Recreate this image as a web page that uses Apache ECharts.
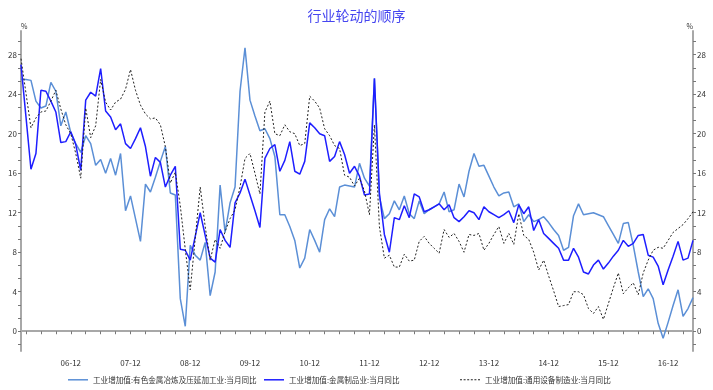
<!DOCTYPE html>
<html><head><meta charset="utf-8">
<script src="https://cdn.jsdelivr.net/npm/echarts@6/dist/echarts.min.js"></script>
<style>html,body{margin:0;padding:0;background:#fff}#c{width:713px;height:390px}</style>
</head><body><div id="c"></div>
<script>
// Months 2006-02 .. 2017-05
const startYear = 2006, startMonth = 2, endYear = 2017, endMonth = 5;
const months = [];
for (let y = startYear, m = startMonth; y < endYear || (y === endYear && m <= endMonth); ) {
  months.push(y + '-' + String(m).padStart(2, '0'));
  m++; if (m > 12) { m = 1; y++; }
}
const nameA = '工业增加值:有色金属冶炼及压延加工业:当月同比';
const nameB = '工业增加值:金属制品业:当月同比';
const nameC = '工业增加值:通用设备制造业:当月同比';
const seriesA = [
  25.5, 25.5, 25.4, 23.3, 22.6, 22.8, 25.2, 24.3, 20.8, 22.2,
  20.1, 19.0, 18.1, 19.8, 19.0, 16.8, 17.4, 16.0, 17.5, 15.8,
  18.0, 12.2, 13.7, 11.4, 9.1, 14.9, 14.1, 15.6, 17.2, 18.7,
  14.0, 13.8, 3.3, 0.5, 8.7, 7.7, 7.2, 9.0, 3.6, 6.0,
  14.8, 10.0, 13.0, 14.6, 24.3, 28.7, 23.4, 21.8, 20.3, 20.5,
  19.5, 17.7, 11.8, 11.8, 10.6, 9.2, 6.4, 7.4, 10.3, 9.2,
  8.0, 11.3, 12.4, 11.6, 14.6, 14.8, 14.7, 14.6, 17.0, 15.5,
  14.7, 25.6, 13.6, 11.4, 11.9, 13.2, 12.3, 13.7, 11.9, 11.4,
  13.2, 11.9, 12.3, 12.6, 12.9, 14.1, 12.1, 12.3, 14.9, 13.6,
  16.2, 18.0, 16.7, 16.8, 15.7, 14.6, 13.7, 14.0, 14.1, 12.6,
  12.9, 11.1, 11.8, 11.1, 11.3, 11.6, 11.0, 10.3, 9.7, 8.2,
  8.5, 11.7, 12.9, 11.8, 11.9, 12.0, 11.8, 11.6, 10.7, 9.8,
  8.9, 10.9, 11.0, 8.7, 6.0, 3.5, 4.3, 3.3, 0.8, -0.7,
  0.9, 2.6, 4.2, 1.5, 2.3, 3.4
];
const seriesB = [
  27.0, 21.7, 16.4, 18.0, 24.4, 24.3, 23.3, 22.2, 19.1, 19.2,
  20.2, 18.9, 16.3, 23.4, 24.2, 23.8, 26.6, 22.3, 21.7, 20.4,
  21.0, 19.0, 18.5, 19.5, 20.6, 18.7, 15.7, 17.6, 17.1, 14.6,
  15.8, 16.7, 8.3, 8.2, 7.2, 9.6, 12.0, 9.7, 7.4, 7.0,
  10.3, 9.2, 8.5, 13.0, 14.0, 15.4, 13.8, 12.2, 10.5, 17.5,
  18.5, 18.9, 16.2, 17.3, 19.2, 16.2, 15.9, 17.2, 21.1, 20.6,
  20.0, 19.8, 17.2, 17.7, 19.2, 17.9, 16.0, 16.7, 15.7, 13.8,
  13.9, 25.6, 14.0, 9.8, 8.0, 11.5, 11.3, 12.7, 11.5, 13.9,
  13.6, 12.1, 12.3, 12.6, 12.9, 12.3, 12.8, 11.5, 11.1, 11.6,
  12.2, 12.0, 11.3, 12.6, 12.1, 11.8, 11.5, 11.8, 12.2, 11.0,
  12.8, 11.9, 12.6, 10.2, 11.3, 9.9, 9.4, 8.9, 8.4, 7.2,
  7.2, 8.4, 7.5, 6.0, 5.8, 6.7, 7.2, 6.3, 6.9, 7.6,
  8.2, 9.2, 8.6, 8.9, 9.7, 9.8, 7.7, 7.5, 6.6, 4.7,
  6.2, 7.6, 9.1, 7.2, 7.4, 9.2
];
const seriesC = [
  27.6, 24.1, 20.6, 21.6, 22.2, 22.3, 23.3, 24.4, 22.5, 20.9,
  20.0, 18.0, 15.5, 22.6, 19.6, 20.8, 25.5, 23.2, 22.4, 23.2,
  23.5, 24.5, 26.5, 24.4, 22.9, 22.0, 21.5, 21.6, 20.9, 18.7,
  15.0, 16.1, 12.7, 8.3, 4.2, 9.4, 14.6, 10.6, 7.2, 9.3,
  8.4, 10.1, 11.4, 12.3, 14.6, 17.5, 18.0, 16.0, 13.9, 22.2,
  23.3, 20.0, 19.8, 20.9, 20.2, 20.0, 18.8, 19.0, 23.8, 23.3,
  22.6, 20.5, 19.8, 18.8, 18.5, 15.8, 15.6, 14.7, 15.5, 14.2,
  11.8, 20.9, 10.6, 7.4, 7.7, 6.5, 6.5, 7.8, 7.1, 7.2,
  9.1, 9.6, 8.9, 8.4, 7.9, 10.3, 9.5, 9.9, 9.1, 8.0,
  9.8, 9.7, 9.9, 8.2, 8.9, 9.8, 10.6, 8.9, 9.9, 8.8,
  11.9, 9.7, 9.3, 8.0, 6.2, 7.2, 5.6, 4.1, 2.5, 2.6,
  2.7, 4.0, 4.0, 3.7, 2.3, 1.8, 2.5, 1.2, 2.8, 4.4,
  5.9, 3.8, 4.4, 4.9, 3.7, 5.9, 7.2, 8.2, 8.5, 8.4,
  9.2, 10.0, 10.4, 10.8, 11.4, 12.1
];
const yLabels = [0, 4, 8, 12, 16, 20, 24, 28];
const yTicks = [];
for (let k = -1; k <= 22; k++) yTicks.push(+(k * 4 / 3).toFixed(4));

const FONT = '"Noto Sans CJK SC", sans-serif';
const ICON_SOLID = 'path://M0,0H20V1.5H0Z';
const ICON_DOT = 'path://M0,0H2V1H0ZM3.6,0H5.6V1H3.6ZM7.2,0H9.2V1H7.2ZM10.8,0H12.8V1H10.8ZM14.4,0H16.4V1H14.4ZM18,0H20V1H18Z';
function yAxisDef(pos) {
  return {
    type: 'value', min: -2, max: 30.4, position: pos,
    name: '%', nameLocation: 'end', nameGap: 1,
    nameTextStyle: { fontSize: 7, color: '#333', fontFamily: FONT, align: pos === 'left' ? 'left' : 'right' },
    axisLine: { show: true, lineStyle: { color: '#a8a8a8', width: 2 } },
    axisTick: { show: true, customValues: yTicks, length: 3, lineStyle: { color: '#777', width: 1 } },
    axisLabel: { customValues: yLabels, fontSize: 8, color: '#333', margin: 4, fontFamily: FONT },
    splitLine: { show: false }
  };
}
function legendDef(name, left, icon) {
  return { data: [name], left: left, top: 376, padding: 0, icon: icon,
    itemWidth: 20, itemHeight: 1.5,
    textStyle: { fontSize: 7.6, color: '#333', fontFamily: FONT } };
}
const chart = echarts.init(document.getElementById('c'), null, { renderer: 'canvas' });
chart.setOption({
  animation: false,
  backgroundColor: '#fff',
  textStyle: { fontFamily: FONT },
  title: { text: '行业轮动的顺序', left: 'center', top: 4,
    textStyle: { fontSize: 14, fontWeight: 'normal', color: '#4646f0', fontFamily: FONT } },
  grid: { left: 21, right: 20, top: 31, bottom: 39, containLabel: false },
  legend: [
    legendDef(nameA, 68, ICON_SOLID),
    legendDef(nameB, 264, ICON_SOLID),
    legendDef(nameC, 460, ICON_DOT)
  ],
  xAxis: {
    type: 'category', data: months, boundaryGap: false,
    axisLine: { lineStyle: { color: '#a8a8a8', width: 2 } },
    axisTick: { show: true, length: 3, lineStyle: { color: '#777' },
      interval: (i, v) => ['03', '06', '09', '12'].includes(v.slice(5)) },
    axisLabel: { interval: (i, v) => v.slice(5) === '12', formatter: v => v.slice(2),
      fontSize: 8, color: '#333', margin: 8, fontFamily: FONT },
    splitLine: { show: false }
  },
  yAxis: [yAxisDef('left'), yAxisDef('right')],
  series: [
    { name: nameA, type: 'line', data: seriesA, symbol: 'none', lineStyle: { color: '#5b8fd6', width: 1.5 }, itemStyle: { color: '#5b8fd6' } },
    { name: nameB, type: 'line', data: seriesB, symbol: 'none', lineStyle: { color: '#1e1eff', width: 1.5 }, itemStyle: { color: '#1e1eff' } },
    { name: nameC, type: 'line', data: seriesC, symbol: 'none', lineStyle: { color: '#222', width: 1, type: [2, 2] }, itemStyle: { color: '#222' } }
  ]
});
</script>
</body></html>
